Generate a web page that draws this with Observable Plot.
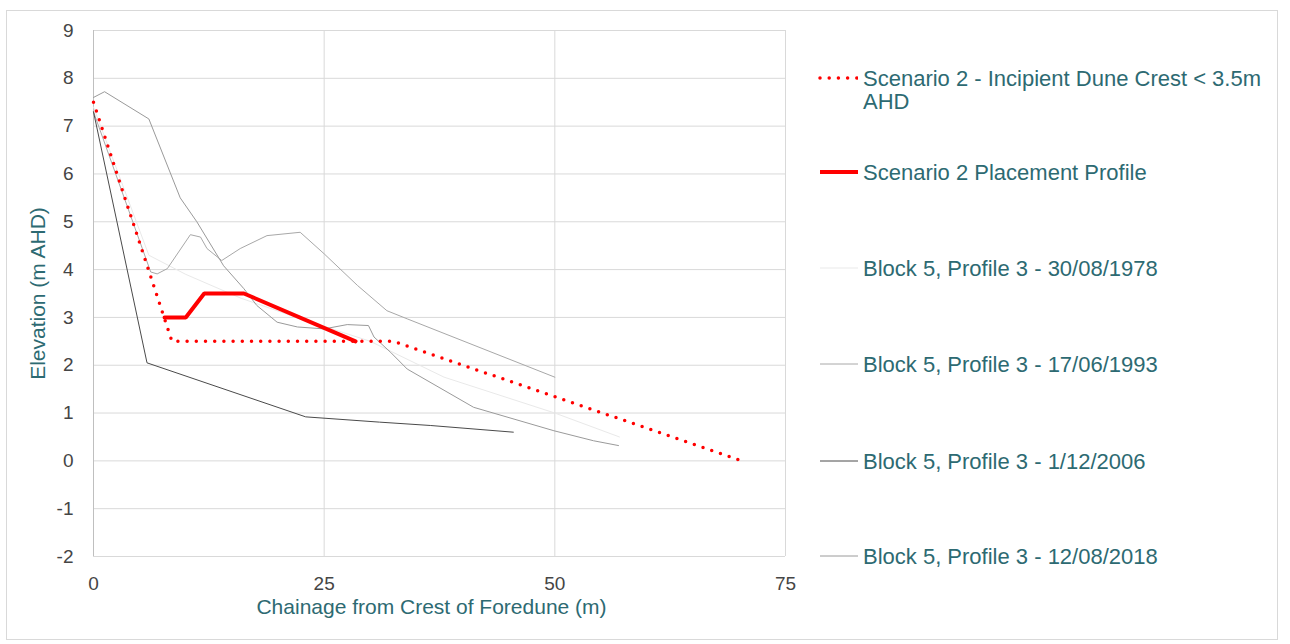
<!DOCTYPE html>
<html>
<head>
<meta charset="utf-8">
<script src="https://cdn.jsdelivr.net/npm/d3@7"></script>
<script src="https://cdn.jsdelivr.net/npm/@observablehq/plot@0.6"></script>
<style>
  html, body { margin: 0; padding: 0; background: #fff; }
  #wrap { position: relative; width: 1290px; height: 644px; font-family: "Liberation Sans", Arial, sans-serif; }
  #frame { position: absolute; left: 6px; top: 10px; width: 1272px; height: 630px; border: 1px solid #d9d9d9; box-sizing: border-box; pointer-events: none; }
  #chart { position: absolute; left: 0; top: 0; }
  .leg { position: absolute; left: 818px; display: flex; align-items: flex-start; color: #2d6a72; font-size: 22px; line-height: 23px; white-space: nowrap; }
  .leg svg { flex: none; margin-right: 5px; margin-top: 5.5px; }
</style>
</head>
<body>
<div id="wrap">
  <div id="frame"></div>
  <div id="chart"></div>
  <div id="legend"></div>
</div>
<script>
// Axis ticks
const xTicks = [0, 25, 50, 75];
const yTicks = [-2, -1, 0, 1, 2, 3, 4, 5, 6, 7, 8, 9];

// Scenario 2 - incipient dune crest design (dotted)
const scenarioX = [0, 8.5, 32.5, 70.3];
const scenarioY = [7.5, 2.5, 2.5, 0];

// Scenario 2 placement profile (solid)
const placementX = [7.7, 10, 12, 16.3, 28.4];
const placementY = [3, 3, 3.5, 3.5, 2.5];

// Surveyed profiles, Block 5 Profile 3
const p1978X = [0, 6, 10, 16, 22, 30, 38, 50, 57];
const p1978Y = [7.4, 4.3, 3.9, 3.4, 3.0, 2.5, 1.75, 1.0, 0.5];

const p1993X = [0, 6.2, 6.9, 8, 10.5, 11.6, 12.3, 13.9, 15.9, 18.8, 22.4, 25, 28.6, 31.8, 34, 50];
const p1993Y = [7.3, 3.95, 3.91, 4.02, 4.73, 4.68, 4.44, 4.19, 4.44, 4.71, 4.78, 4.33, 3.67, 3.14, 2.97, 1.75];

const p2006X = [0, 5.8, 23, 31, 36.5, 45.5];
const p2006Y = [7.3, 2.05, 0.92, 0.81, 0.74, 0.6];

const p2018X = [0, 1.2, 6, 9.4, 11.2, 14.1, 16.3, 17.7, 19.9, 22.1, 25, 27.5, 29.8, 30.4, 32.2, 34, 41.2, 49.9, 54.2, 56.9];
const p2018Y = [7.6, 7.72, 7.15, 5.5, 5.0, 4.08, 3.6, 3.25, 2.9, 2.8, 2.76, 2.85, 2.83, 2.59, 2.27, 1.92, 1.12, 0.63, 0.42, 0.32];

const toRows = (xs, ys) => xs.map((x, i) => ({x, y: ys[i]}));

const series = [
  {name: "Scenario 2 - Incipient Dune Crest < 3.5m\nAHD", xs: scenarioX, ys: scenarioY, stroke: "#ff0000", width: 3.5, dash: "0 9.2"},
  {name: "Scenario 2 Placement Profile", xs: placementX, ys: placementY, stroke: "#ff0000", width: 4, dash: null},
  {name: "Block 5, Profile 3 - 30/08/1978", xs: p1978X, ys: p1978Y, stroke: "#e9e9e9", width: 1, dash: null},
  {name: "Block 5, Profile 3 - 17/06/1993", xs: p1993X, ys: p1993Y, stroke: "#a8a8a8", width: 1, dash: null},
  {name: "Block 5, Profile 3 - 1/12/2006", xs: p2006X, ys: p2006Y, stroke: "#4a4a4a", width: 1, dash: null},
  {name: "Block 5, Profile 3 - 12/08/2018", xs: p2018X, ys: p2018Y, stroke: "#9a9a9a", width: 1, dash: null}
];

const teal = "#2d6a72";
const tickColor = "#454545";
const profileMarks = series.slice(2).map(s =>
  Plot.line(toRows(s.xs, s.ys), {x: "x", y: "y", stroke: s.stroke, strokeWidth: s.width})
);

const chart = Plot.plot({
  width: 1290,
  height: 644,
  marginLeft: 93,
  marginTop: 30,
  marginRight: 505,
  marginBottom: 88,
  style: {fontFamily: "'Liberation Sans', Arial, sans-serif", fontSize: "19px", color: tickColor, background: "transparent"},
  x: {domain: [0, 75]},
  y: {domain: [-2, 9]},
  marks: [
    Plot.gridY(yTicks, {stroke: "#d9d9d9", strokeOpacity: 1}),
    Plot.gridX(xTicks, {stroke: "#d9d9d9", strokeOpacity: 1}),
    Plot.ruleX([0], {stroke: "#bfbfbf"}),
    ...profileMarks,
    Plot.line(toRows(placementX, placementY), {x: "x", y: "y", stroke: "#ff0000", strokeWidth: 4, strokeLinejoin: "miter"}),
    Plot.line(toRows(scenarioX, scenarioY), {x: "x", y: "y", stroke: "#ff0000", strokeWidth: 3.5, strokeDasharray: "0 9.2", strokeLinecap: "round"}),
    Plot.axisX(xTicks, {tickSize: 0, tickPadding: 20, label: null, fill: tickColor, fontSize: 19, tickFormat: d => String(d)}),
    Plot.axisY(yTicks, {tickSize: 0, tickPadding: 20, label: null, fill: tickColor, fontSize: 19, tickFormat: d => String(d)}),
    Plot.text(["Chainage from Crest of Foredune (m)"], {frameAnchor: "bottom", dy: 57, dx: -8, fill: teal, fontSize: 21}),
    Plot.text(["Elevation (m AHD)"], {frameAnchor: "left", rotate: -90, textAnchor: "middle", dx: -55, fill: teal, fontSize: 21})
  ]
});
document.getElementById("chart").appendChild(chart);

// Legend on the right
const legendTops = [66.5, 160.5, 256.5, 352.5, 449.5, 544.5];
const legend = document.getElementById("legend");
series.forEach((s, i) => {
  const row = document.createElement("div");
  row.className = "leg";
  row.style.top = legendTops[i] + "px";
  const sw = d3.create("svg").attr("width", 40).attr("height", 12);
  sw.append("line").attr("x1", 2).attr("x2", 40).attr("y1", 6).attr("y2", 6)
    .attr("stroke", s.stroke).attr("stroke-width", s.width)
    .attr("stroke-dasharray", s.dash).attr("stroke-linecap", s.dash ? "round" : "butt");
  row.appendChild(sw.node());
  const txt = document.createElement("div");
  txt.innerHTML = s.name.split("\n").join("<br>");
  row.appendChild(txt);
  legend.appendChild(row);
});
</script>
</body>
</html>
